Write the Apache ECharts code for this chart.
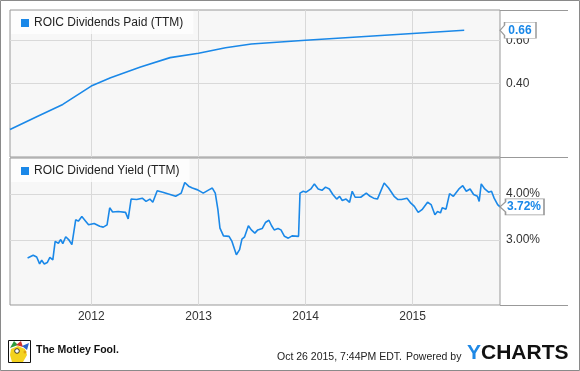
<!DOCTYPE html>
<html>
<head>
<meta charset="utf-8">
<script src="https://cdn.jsdelivr.net/npm/echarts@6/dist/echarts.min.js"></script>
<style>
html,body{margin:0;padding:0;background:#fff;}
#chart{width:580px;height:371px;}
</style>
</head>
<body>
<div id="chart"></div>
<script>
// ---- data ----
var seriesNames = ['ROIC Dividends Paid (TTM)', 'ROIC Dividend Yield (TTM)'];
var xRange = ['2011-03-30', '2015-10-26'];
var yearTicks = ['2012-01-01', '2013-01-01', '2014-01-01', '2015-01-01'];
var topTicks = [0.40, 0.60];
var bottomTicks = [3.00, 4.00];
var lastLabels = ['0.66', '3.72%'];

var paidDates = ['2011-03-30','2011-06-29','2011-09-26','2012-01-01','2012-03-07','2012-06-17','2012-09-26','2013-01-01','2013-04-03','2013-06-30','2014-01-01','2015-01-01','2015-06-26'];
var paidValues = [0.188,0.247,0.304,0.389,0.428,0.478,0.521,0.541,0.567,0.584,0.602,0.633,0.648];

var yieldDates = ['2011-05-29','2011-06-17','2011-06-29','2011-07-09','2011-07-16','2011-07-25','2011-08-04','2011-08-13','2011-08-23','2011-08-31',
'2011-09-11','2011-09-19','2011-09-26','2011-10-06','2011-10-16','2011-10-27','2011-11-09','2011-11-18','2011-11-30','2011-12-13',
'2011-12-23','2012-01-11','2012-01-30','2012-02-11','2012-02-24','2012-03-04','2012-03-14','2012-04-02','2012-04-27','2012-05-06',
'2012-05-16','2012-06-04','2012-06-23','2012-07-06','2012-07-19','2012-07-29','2012-08-13','2012-09-01','2012-09-26','2012-10-15',
'2012-11-03','2012-11-15','2012-11-28','2012-12-11','2012-12-29','2013-01-17','2013-02-05','2013-02-17','2013-02-27','2013-03-08',
'2013-03-15','2013-03-27','2013-04-15','2013-04-25','2013-05-10','2013-05-21','2013-05-29','2013-06-07','2013-06-20','2013-06-30',
'2013-07-12','2013-07-22','2013-08-06','2013-08-17','2013-08-29','2013-09-07','2013-09-16','2013-09-29','2013-10-09','2013-10-21',
'2013-11-03','2013-11-16','2013-12-08','2013-12-13','2013-12-24','2014-01-03','2014-01-19','2014-01-31','2014-02-13','2014-02-26',
'2014-03-10','2014-03-23','2014-04-04','2014-04-17','2014-04-27','2014-05-06','2014-05-19','2014-05-31','2014-06-09','2014-06-19',
'2014-07-08','2014-07-27','2014-08-09','2014-08-21','2014-09-03','2014-09-26','2014-10-11','2014-10-30','2014-11-12','2014-11-24',
'2014-12-13','2014-12-26','2015-01-07','2015-01-20','2015-02-02','2015-02-21','2015-03-05','2015-03-18','2015-03-27','2015-04-06',
'2015-04-12','2015-04-25','2015-05-07','2015-05-20','2015-06-08','2015-06-21','2015-07-03','2015-07-16','2015-07-28','2015-08-10',
'2015-08-16','2015-08-23','2015-09-04','2015-09-17','2015-09-27','2015-10-06','2015-10-18','2015-10-26'];
var yieldValues = [2.61,2.67,2.63,2.48,2.56,2.48,2.51,2.62,2.57,2.97,
2.93,3.01,2.92,3.07,3.01,2.90,3.44,3.41,3.51,3.41,
3.33,3.36,3.30,3.28,3.33,3.70,3.61,3.62,3.60,3.46,
3.89,3.88,3.91,3.84,3.89,3.82,4.07,4.04,3.99,3.95,
4.02,4.25,4.17,4.13,4.09,4.02,4.09,4.13,4.02,3.66,
3.26,3.09,3.08,2.97,2.68,2.79,3.02,3.07,3.31,3.22,
3.15,3.22,3.25,3.38,3.43,3.31,3.22,3.25,3.22,3.08,
3.04,3.09,3.08,4.02,4.06,4.04,4.11,4.22,4.11,4.08,
4.15,4.11,3.99,3.89,3.95,3.86,3.89,3.82,4.06,3.93,
3.93,4.02,3.95,3.91,3.89,4.24,4.13,3.95,3.88,3.88,
3.91,3.80,3.73,3.60,3.66,3.82,3.77,3.55,3.62,3.59,
3.70,3.67,4.01,3.95,4.11,4.18,4.06,4.11,3.99,3.95,
3.84,4.22,4.11,4.04,4.06,3.91,3.77,3.72];

// ---- style ----
var BLUE = '#1a88e8';
var FONT = '"Liberation Sans", Arial, sans-serif';
var callout = 'path://M0,8 L5,3 L5,0 L40,0 L40,16 L5,16 L5,13 Z';

function toTime(s) { return Date.parse(s + 'T00:00:00Z'); }
function pairs(d, v) { return d.map(function (x, i) { return [toTime(x), v[i]]; }); }

function xAxisCfg(gridIndex, showLabels) {
  var ticks = yearTicks.map(toTime);
  return {
    type: 'value', gridIndex: gridIndex, min: toTime(xRange[0]), max: toTime(xRange[1]),
    axisLine: {show: false},
    axisTick: {show: false, customValues: ticks},
    splitLine: {show: true, lineStyle: {color: '#d9d9d9', width: 1}},
    axisLabel: {
      show: showLabels, customValues: ticks, color: '#333', fontSize: 12, fontFamily: FONT, margin: 6,
      formatter: function (v) { return String(new Date(v).getUTCFullYear()); }
    }
  };
}
function yAxisCfg(gridIndex, min, max, ticks, fmt) {
  return {
    type: 'value', gridIndex: gridIndex, position: 'right', min: min, max: max,
    axisLine: {show: false},
    axisTick: {show: false, customValues: ticks},
    splitLine: {show: true, lineStyle: {color: '#d9d9d9', width: 1}},
    axisLabel: {customValues: ticks, color: '#333', fontSize: 12, fontFamily: FONT, margin: 6, formatter: fmt}
  };
}
function legendCfg(name, top) {
  return {
    data: [name], left: 11, top: top, orient: 'horizontal',
    icon: 'rect', itemWidth: 8, itemHeight: 8, itemGap: 5,
    padding: [6, 10, 5, 10],
    backgroundColor: 'rgba(255,255,255,0.75)',
    textStyle: {color: '#222', fontSize: 12, fontFamily: FONT},
    selectedMode: false
  };
}
function markCfg(coord, text, w) {
  return {
    silent: true,
    symbol: callout, symbolSize: [w, 16], symbolOffset: ['50%', 0], symbolKeepAspect: false,
    itemStyle: {color: '#fff', borderColor: '#9a9a9a', borderWidth: 1},
    label: {show: true, position: 'inside', formatter: text, color: BLUE, fontWeight: 'bold', fontSize: 12, fontFamily: FONT, offset: [2, 0]},
    data: [{coord: coord}]
  };
}

var chart = echarts.init(document.getElementById('chart'), null, {renderer: 'canvas'});
chart.setOption({
  animation: false,
  backgroundColor: '#fff',
  grid: [
    {left: 10, top: 10, width: 490, height: 147, show: true, backgroundColor: '#f7f7f7', borderColor: '#999', borderWidth: 1},
    {left: 10, top: 158, width: 490, height: 147, show: true, backgroundColor: '#f7f7f7', borderColor: '#999', borderWidth: 1}
  ],
  xAxis: [xAxisCfg(0, false), xAxisCfg(1, true)],
  yAxis: [
    yAxisCfg(0, 0.06, 0.742, topTicks, function (v) { return v.toFixed(2); }),
    yAxisCfg(1, 1.587, 4.783, bottomTicks, function (v) { return v.toFixed(2) + '%'; })
  ],
  legend: [legendCfg(seriesNames[0], 11), legendCfg(seriesNames[1], 159)],
  series: [
    {
      name: seriesNames[0], type: 'line', xAxisIndex: 0, yAxisIndex: 0,
      data: pairs(paidDates, paidValues), showSymbol: false, symbol: 'none',
      color: BLUE, lineStyle: {color: BLUE, width: 1.6},
      markPoint: markCfg([toTime(xRange[1]), paidValues[paidValues.length - 1]], lastLabels[0], 36)
    },
    {
      name: seriesNames[1], type: 'line', xAxisIndex: 1, yAxisIndex: 1,
      data: pairs(yieldDates, yieldValues), showSymbol: false, symbol: 'none',
      color: BLUE, lineStyle: {color: BLUE, width: 1.6},
      markPoint: markCfg([toTime(xRange[1]), yieldValues[yieldValues.length - 1]], lastLabels[1], 44)
    }
  ],
  graphic: [
    {type: 'rect', shape: {x: 0.5, y: 0.5, width: 579, height: 370}, style: {fill: null, stroke: '#8a8a8a', lineWidth: 1}, silent: true},
    {type: 'line', shape: {x1: 500, y1: 10.5, x2: 568, y2: 10.5}, style: {stroke: '#999', lineWidth: 1}},
    {type: 'line', shape: {x1: 500, y1: 157.5, x2: 568, y2: 157.5}, style: {stroke: '#999', lineWidth: 1}},
    {type: 'line', shape: {x1: 500, y1: 305.5, x2: 568, y2: 305.5}, style: {stroke: '#999', lineWidth: 1}},
    {type: 'group', left: 8, top: 340, children: [
      {type: 'rect', shape: {x: 0.5, y: 0.5, width: 22, height: 22}, style: {fill: '#fff', stroke: '#111', lineWidth: 1}},
      {type: 'polygon', shape: {points: [[3, 9], [10, 6], [17, 9], [19, 15], [15, 22], [4, 22], [2, 15]]}, style: {fill: '#f4d21f'}},
      {type: 'polygon', shape: {points: [[2, 8], [6, 1], [10, 5]]}, style: {fill: '#2e9a3a'}},
      {type: 'polygon', shape: {points: [[8, 5], [13, 1], [15, 7]]}, style: {fill: '#d0312d'}},
      {type: 'polygon', shape: {points: [[14, 6], [21, 3], [19, 10]]}, style: {fill: '#2a62c9'}},
      {type: 'circle', shape: {cx: 9, cy: 11, r: 2.3}, style: {fill: '#fff', stroke: '#111', lineWidth: 0.8}},
      {type: 'circle', shape: {cx: 17, cy: 12, r: 1.5}, style: {fill: '#e0a010'}}
    ]},
    {type: 'text', left: 36, top: 345, style: {text: 'The Motley Fool.', fill: '#111', font: 'bold 10.5px ' + FONT}},
    {type: 'text', left: 277, top: 352, style: {text: 'Oct 26 2015, 7:44PM EDT.', fill: '#222', font: '10.5px ' + FONT}},
    {type: 'text', left: 406, top: 352, style: {text: 'Powered by', fill: '#222', font: '10.5px ' + FONT}},
    {type: 'text', left: 467, top: 343, style: {
      text: '{y|Y}{c|CHARTS}',
      rich: {
        y: {fill: '#1e88e5', font: 'bold 21px ' + FONT},
        c: {fill: '#111', font: 'bold 21px ' + FONT}
      }
    }}
  ]
});
</script>
</body>
</html>
